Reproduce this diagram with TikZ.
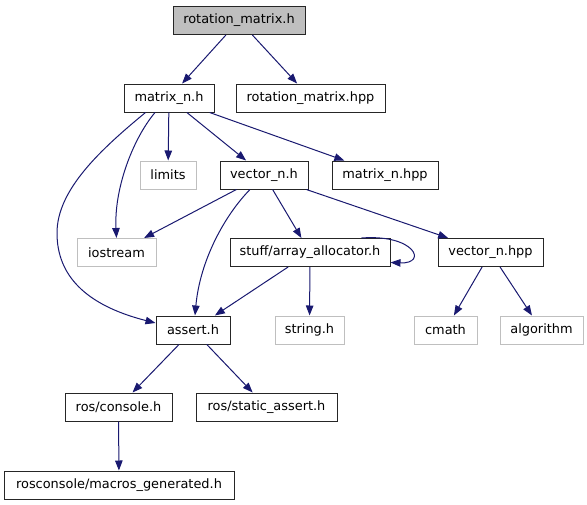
\documentclass[tikz,border=0pt]{standalone}
\usepackage{fontspec}
\setmainfont{DejaVu Sans}
\usetikzlibrary{arrows.meta,calc}
\definecolor{edgeblue}{HTML}{191970}
\definecolor{grayline}{HTML}{BFBFBF}
\begin{document}
\begin{tikzpicture}[x=1pt,y=-1pt,
  box/.style={draw=black!85, line width=1pt, minimum height=28pt, inner sep=0pt,
    font=\fontsize{12.9}{15}\selectfont, fill=white},
  extbox/.style={box, draw=grayline},
  topbox/.style={box, fill=grayline},
  dep/.style={draw=edgeblue, line width=1pt, -{Triangle[length=10pt,width=7.5pt]}}]
\useasboundingbox (0,0) rectangle (587,504);
\node[topbox, minimum width=132pt] (roth) at (239,20.5) {rotation\_matrix.h};
\node[box, minimum width=90pt] (matn) at (169,98) {matrix\_n.h};
\node[box, minimum width=149pt] (rothpp) at (310.5,98) {rotation\_matrix.hpp};
\node[extbox, minimum width=56pt] (limits) at (168,175) {limits};
\node[box, minimum width=88pt] (vecn) at (264,175) {vector\_n.h};
\node[box, minimum width=106pt] (matnhpp) at (385,175) {matrix\_n.hpp};
\node[extbox, minimum width=79pt] (iostream) at (116.5,252.5) {iostream};
\node[box, minimum width=160pt] (alloc) at (310,252.5) {stuff/array\_allocator.h};
\node[box, minimum width=105pt] (vecnhpp) at (490.5,252.5) {vector\_n.hpp};
\node[box, minimum width=74pt] (assert) at (193,330) {assert.h};
\node[extbox, minimum width=69pt] (string) at (309.5,330) {string.h};
\node[extbox, minimum width=63pt] (cmath) at (445.5,330) {cmath};
\node[extbox, minimum width=83pt] (algorithm) at (541.5,330) {algorithm};
\node[box, minimum width=107pt] (console) at (118.5,407) {ros/console.h};
\node[box, minimum width=141pt] (static) at (266.5,407) {ros/static\_assert.h};
\node[box, minimum width=230pt] (macros) at (119,485) {rosconsole/macros\_generated.h};

\draw[dep] (roth) -- (matn);
\draw[dep] (roth) -- (rothpp);
\draw[dep] (matn) -- (limits);
\draw[dep] (matn) -- (vecn);
\draw[dep] (matn) -- (matnhpp);
\draw[dep] ($(matn.south west)+(31.5,0)$) .. controls (132,140) and (114,190) .. (iostream.north);
\draw[dep] ($(matn.south west)+(22,0)$) .. controls (100,150) and (57,190) .. (57,233)
  .. controls (57,275) and (85,305) .. ($(assert.west)+(0,-7)$);
\draw[dep] (vecn) -- (iostream);
\draw[dep] ($(vecn.south)+(-14,0)$) .. controls (225,215) and (200,260) .. ($(assert.north)+(2,0)$);
\draw[dep] (vecn) -- (alloc);
\draw[dep] (vecn) -- (vecnhpp);
\draw[dep] ($(alloc.north east)+(-29,0)$) .. controls (415,234) and (428,264) .. ($(alloc.east)+(0,10)$);
\draw[dep] (alloc) -- (assert);
\draw[dep] (alloc) -- (string);
\draw[dep] (vecnhpp) -- (cmath);
\draw[dep] (vecnhpp) -- (algorithm);
\draw[dep] (assert) -- (console);
\draw[dep] (assert) -- (static);
\draw[dep] (console) -- (macros);
\end{tikzpicture}
\end{document}
